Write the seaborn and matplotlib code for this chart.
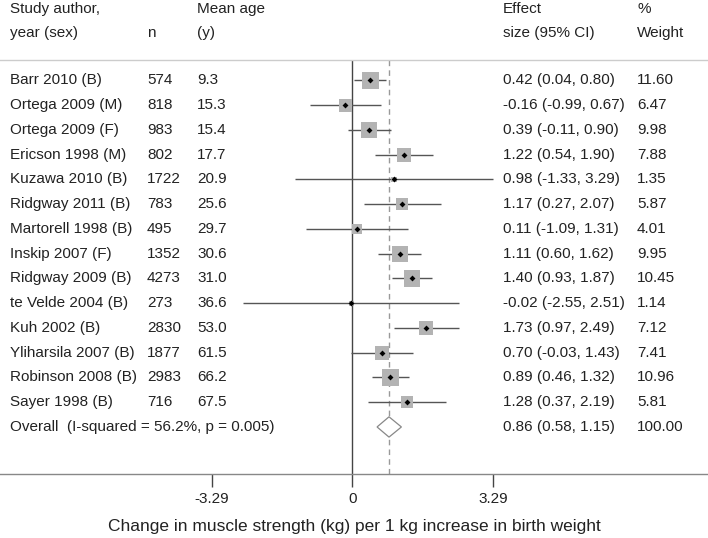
import matplotlib.pyplot as plt
import matplotlib.transforms as mtransforms
import seaborn as sns
import pandas as pd

# study rows, top to bottom
studies = ['Barr 2010 (B)', 'Ortega 2009 (M)', 'Ortega 2009 (F)', 'Ericson 1998 (M)',
           'Kuzawa 2010 (B)', 'Ridgway 2011 (B)', 'Martorell 1998 (B)', 'Inskip 2007 (F)',
           'Ridgway 2009 (B)', 'te Velde 2004 (B)', 'Kuh 2002 (B)', 'Yliharsila 2007 (B)',
           'Robinson 2008 (B)', 'Sayer 1998 (B)']
n_sizes = [574, 818, 983, 802, 1722, 783, 495, 1352, 4273, 273, 2830, 1877, 2983, 716]
mean_age = [9.3, 15.3, 15.4, 17.7, 20.9, 25.6, 29.7, 30.6, 31.0, 36.6, 53.0, 61.5, 66.2, 67.5]
effect = [0.42, -0.16, 0.39, 1.22, 0.98, 1.17, 0.11, 1.11, 1.40, -0.02, 1.73, 0.70, 0.89, 1.28]
ci_low = [0.04, -0.99, -0.11, 0.54, -1.33, 0.27, -1.09, 0.60, 0.93, -2.55, 0.97, -0.03, 0.46, 0.37]
ci_high = [0.80, 0.67, 0.90, 1.90, 3.29, 2.07, 1.31, 1.62, 1.87, 2.51, 2.49, 1.43, 1.32, 2.19]
weight = [11.60, 6.47, 9.98, 7.88, 1.35, 5.87, 4.01, 9.95, 10.45, 1.14, 7.12, 7.41, 10.96, 5.81]

overall_label = 'Overall  (I-squared = 56.2%, p = 0.005)'
overall_es, overall_low, overall_high = 0.86, 0.58, 1.15
x_ticks = [-3.29, 0, 3.29]
x_tick_labels = ['-3.29', '0', '3.29']

df = pd.DataFrame({'study': studies, 'n': n_sizes, 'age': mean_age, 'es': effect,
                   'lo': ci_low, 'hi': ci_high, 'w': weight})
df['row'] = range(len(df))
overall_row = len(df)

sns.set_theme(style='white')
plt.rcParams['font.family'] = ['Liberation Sans', 'DejaVu Sans']
txt = '#222222'
fs = 11

fig = plt.figure(figsize=(7.08, 5.38), dpi=100)
ax = fig.add_axes([0, 0.119, 1, 0.7695])
ax.set_xlim(-8.25, 8.33)
ax.set_ylim(15.9, -0.828)

# reference lines
ax.axvline(0, color='#444444', lw=1)
ax.axvline(overall_es, color='#999999', lw=1, ls=(0, (4, 3)))

# confidence intervals
ax.hlines(df['row'], df['lo'], df['hi'], color='#555555', lw=1, zorder=2)

# weight squares (area proportional to weight)
k = 13
sns.scatterplot(data=df, x='es', y='row', size='w', marker='s', color='#b3b3b3',
                sizes=(k * min(weight), k * max(weight)),
                size_norm=(min(weight), max(weight)),
                linewidth=0, legend=False, ax=ax, zorder=3)
# point estimates
sns.scatterplot(data=df, x='es', y='row', marker='D', color='black', s=9,
                linewidth=0, legend=False, ax=ax, zorder=4)

# overall diamond
h = 0.41
ax.fill([overall_low, overall_es, overall_high, overall_es],
        [overall_row, overall_row - h, overall_row, overall_row + h],
        facecolor='white', edgecolor='#888888', lw=0.9, zorder=3)

# axis styling
for side in ['left', 'right']:
    ax.spines[side].set_visible(False)
ax.spines['top'].set_color('#cccccc')
ax.spines['top'].set_linewidth(1)
ax.spines['bottom'].set_color('#888888')
ax.spines['bottom'].set_linewidth(1)
ax.set_yticks([])
ax.set_ylabel('')
ax.set_xticks(x_ticks)
ax.set_xticklabels(x_tick_labels, fontsize=fs, color=txt)
ax.tick_params(axis='x', bottom=True, direction='out', length=9, width=1,
               color='#444444', pad=4)
ax.set_xlabel('Change in muscle strength (kg) per 1 kg increase in birth weight',
              fontsize=12.5, color=txt)
ax.xaxis.label.set_va('center')
ax.xaxis.set_label_coords(0.5, -0.128)

# text columns (x in figure-pixel fraction, y in row units)
trans = mtransforms.blended_transform_factory(ax.transAxes, ax.transData)
col_x = {'study': 10 / 708, 'n': 147 / 708, 'age': 197 / 708, 'es': 503 / 708, 'w': 637 / 708}

def put(x, y, s):
    ax.text(x, y, s, transform=trans, ha='left', va='center', fontsize=fs,
            color=txt, clip_on=False)

hdr1, hdr2 = -2.9, -1.93
put(col_x['study'], hdr1, 'Study author,')
put(col_x['study'], hdr2, 'year (sex)')
put(col_x['n'], hdr2, 'n')
put(col_x['age'], hdr1, 'Mean age')
put(col_x['age'], hdr2, '(y)')
put(col_x['es'], hdr1, 'Effect')
put(col_x['es'], hdr2, 'size (95% CI)')
put(col_x['w'], hdr1, '%')
put(col_x['w'], hdr2, 'Weight')

for _, r in df.iterrows():
    put(col_x['study'], r['row'], r['study'])
    put(col_x['n'], r['row'], f"{r['n']:.0f}")
    put(col_x['age'], r['row'], f"{r['age']:.1f}")
    put(col_x['es'], r['row'], f"{r['es']:.2f} ({r['lo']:.2f}, {r['hi']:.2f})")
    put(col_x['w'], r['row'], f"{r['w']:.2f}")

put(col_x['study'], overall_row, overall_label)
put(col_x['es'], overall_row, f"{overall_es:.2f} ({overall_low:.2f}, {overall_high:.2f})")
put(col_x['w'], overall_row, '100.00')

fig.savefig('out.png', dpi=100, facecolor='white')
